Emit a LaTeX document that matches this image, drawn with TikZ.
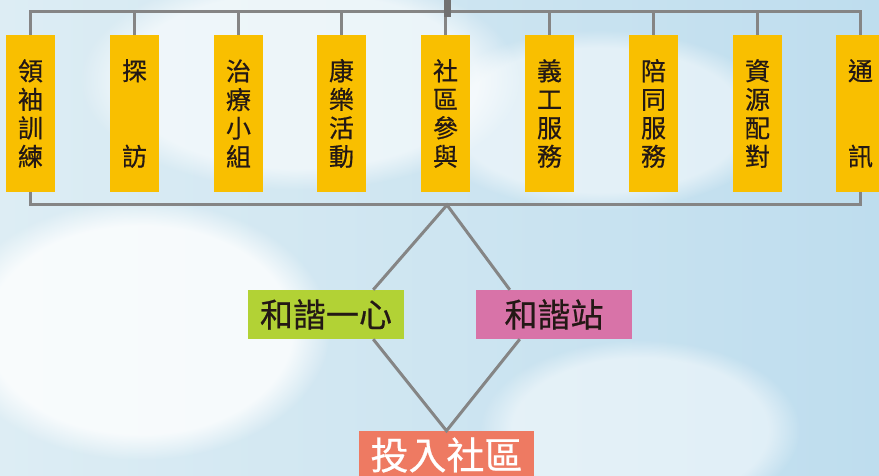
\documentclass[tikz,border=0pt]{standalone}
\usepackage{fontspec}
\newfontfamily\cjk[FakeBold=0.6]{Noto Sans CJK TC}
\usepackage{xcolor}
\usetikzlibrary{positioning, fadings}

\definecolor{tagyellow}{HTML}{F9BF00}
\definecolor{heartgreen}{HTML}{B2D235}
\definecolor{stationpink}{HTML}{D873A8}
\definecolor{joinorange}{HTML}{EE7A62}
\definecolor{wiregrey}{HTML}{858585}
\definecolor{inkdark}{HTML}{231815}
\definecolor{skyleft}{HTML}{DDEDF4}
\definecolor{skyright}{HTML}{BEDDEE}

\tikzset{
  tag/.style={fill=tagyellow, text=inkdark, inner sep=0pt, align=center,
    minimum width=49pt, minimum height=157pt,
    font=\cjk\fontsize{25}{28.5}\selectfont},
  badge/.style={inner sep=0pt, minimum width=156pt, minimum height=49pt,
    text=inkdark, font=\cjk\fontsize{33}{36}\selectfont},
  wire/.style={draw=wiregrey, line width=3pt},
  cloud/.style={fill=white, path fading=circle with fuzzy edge 20 percent}
}

\begin{document}
\begin{tikzpicture}[x=1pt, y=-1pt]
    \useasboundingbox (0,0) rectangle (879,476);
    \clip (0,0) rectangle (879,476);
    % sky
    \shade[left color=skyleft, right color=skyright] (0,0) rectangle (879,476);
    \fill[cloud, opacity=0.8] (140,330) ellipse (190pt and 130pt);
    \fill[cloud, opacity=0.6] (300,80) ellipse (220pt and 110pt);
    \fill[cloud, opacity=0.5] (640,430) ellipse (160pt and 90pt);
    \fill[cloud, opacity=0.5] (600,120) ellipse (180pt and 90pt);

    % tags
    \node[tag] (t1) at (30.5, 113.5) {領\\袖\\訓\\練};
    \node[tag] (t2) at (134.5, 113.5) {探\\[57pt]訪};
    \node[tag] (t3) at (238.5, 113.5) {治\\療\\小\\組};
    \node[tag] (t4) at (341.5, 113.5) {康\\樂\\活\\動};
    \node[tag] (t5) at (445.5, 113.5) {社\\區\\參\\與};
    \node[tag] (t6) at (549.5, 113.5) {義\\工\\服\\務};
    \node[tag] (t7) at (653.5, 113.5) {陪\\同\\服\\務};
    \node[tag] (t8) at (757.5, 113.5) {資\\源\\配\\對};
    \node[tag] (t9) at (860.5, 113.5) {通\\[57pt]訊};

    % badges
    \node[badge, fill=heartgreen] (heart) at (326, 314.5) {和諧一心};
    \node[badge, fill=stationpink] (station) at (554, 314.5) {和諧站};
    \node[badge, fill=joinorange, text=white, minimum width=175pt, minimum height=48pt,
      font=\cjk\fontsize{38}{40}\selectfont] (join) at (446.5, 455) {投入社區};

    \coordinate (hook) at (447.5, 0);
    \coordinate (apex) at (447, 205);

    % hanger bars
    \draw[wire] (t1.north) -- ++(0,-23) -| (t9.north);
    \foreach \i in {2,...,8}
        \draw[wire] (t\i.north) -- ++(0,-23);
    \draw[wiregrey!85!black, line width=7pt] (hook) -- ++(0,17);
    \draw[wire] (t1.south) -- ++(0,12) -| (t9.south);

    % diamond
    \draw[wire] ([xshift=-31pt]heart.north east) -- (apex) -- ([xshift=34pt]station.north west);
    \draw[wire] ([xshift=-31pt]heart.south east) -- (join.north) -- ([xshift=44pt]station.south west);
\end{tikzpicture}
\end{document}
